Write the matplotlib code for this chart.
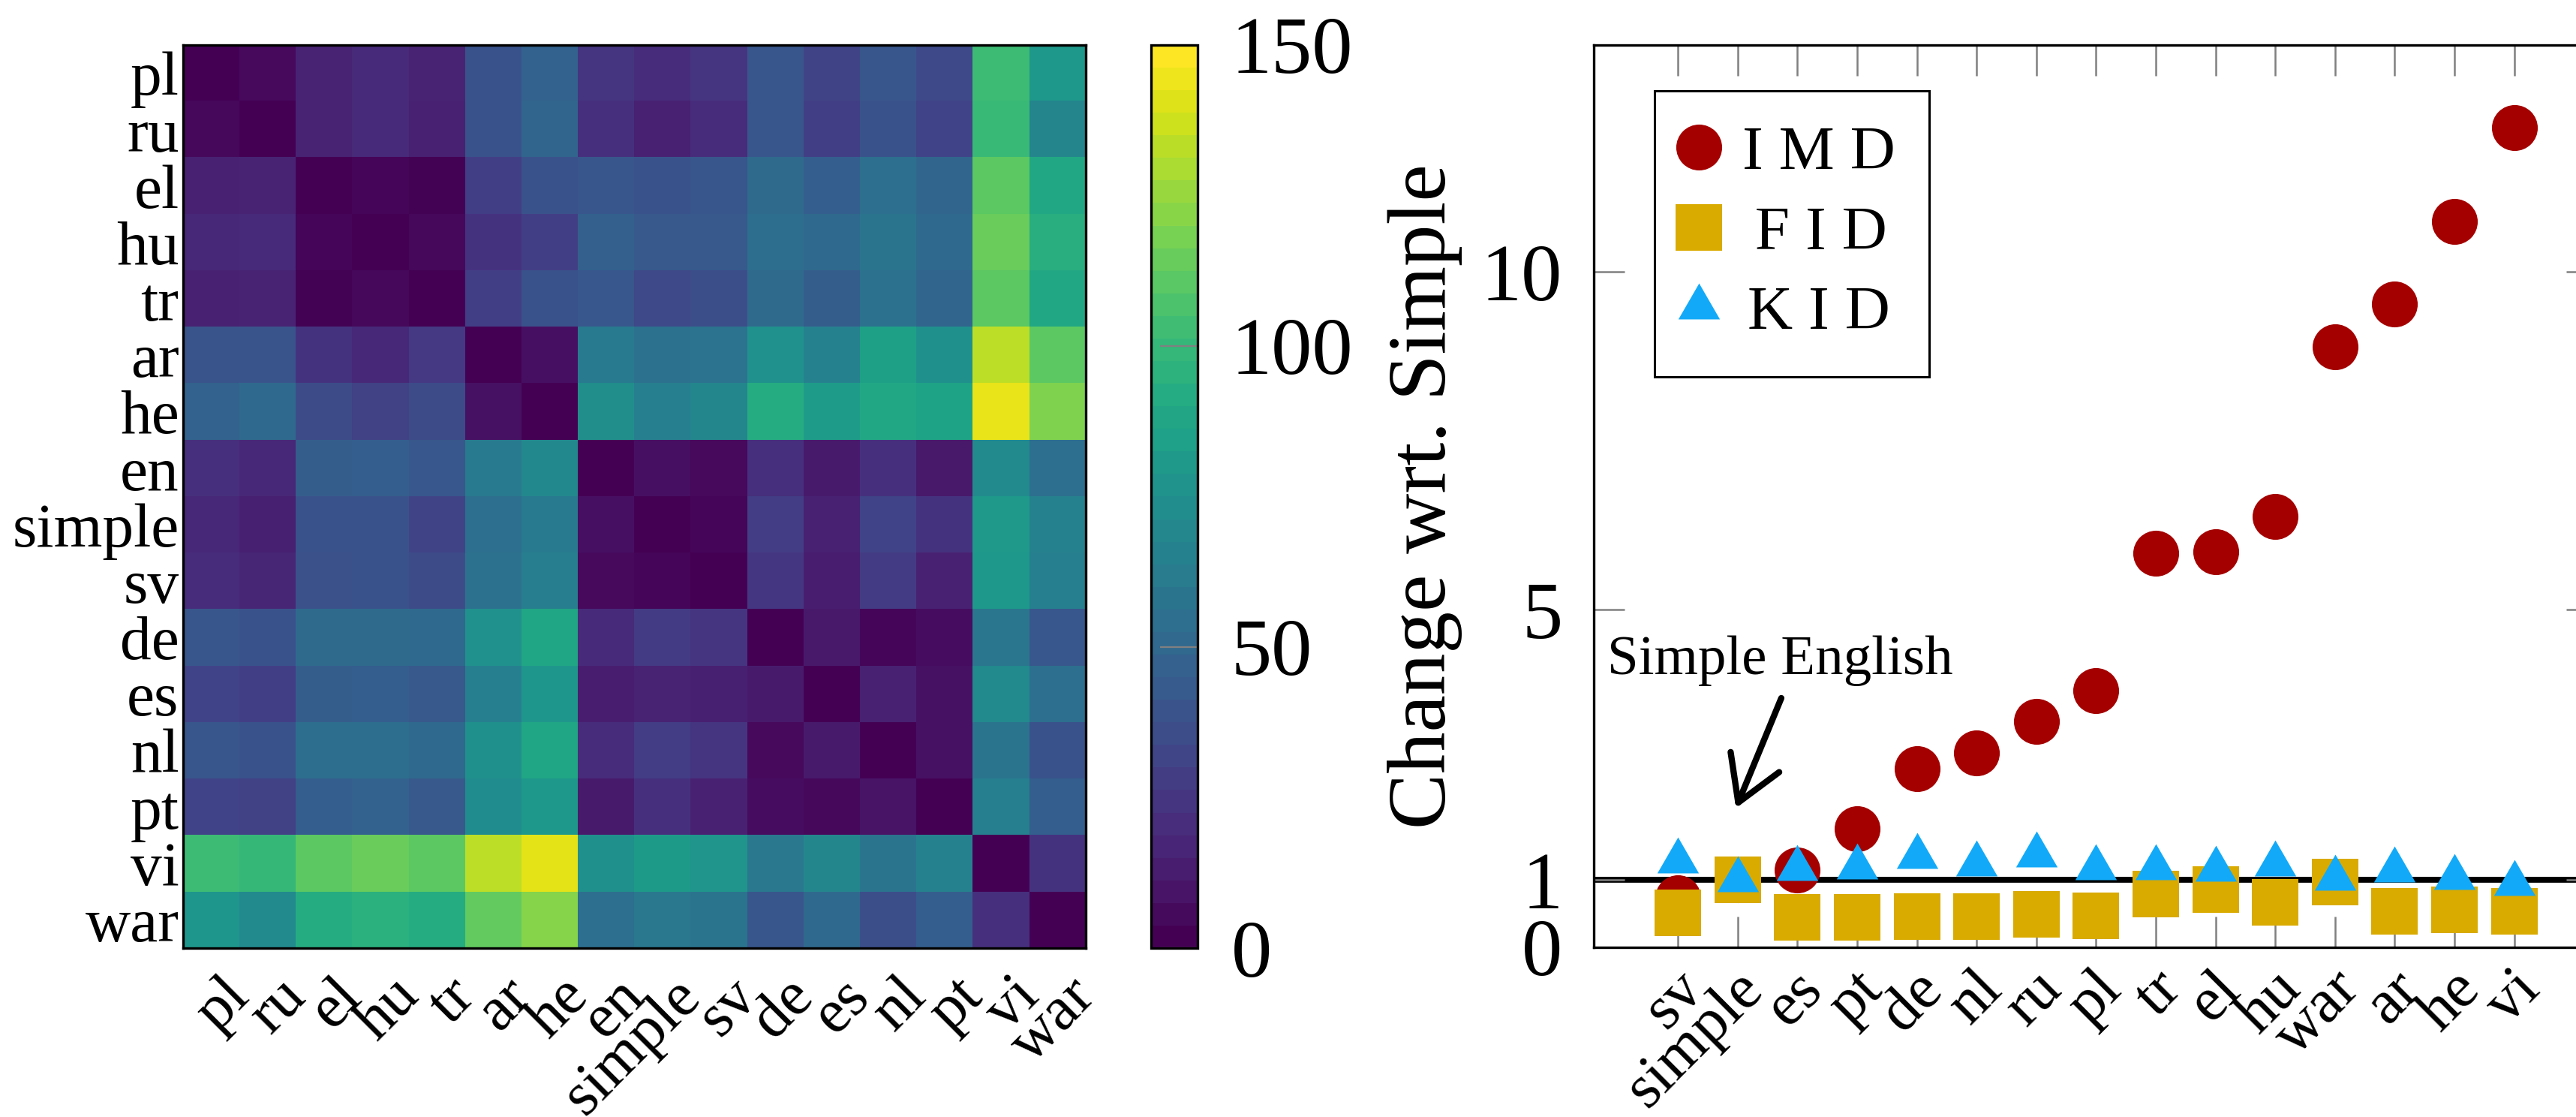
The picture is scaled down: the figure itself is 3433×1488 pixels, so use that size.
import numpy as np
import matplotlib
matplotlib.use("Agg")
import matplotlib.pyplot as plt
from matplotlib import cm, colors
from matplotlib.transforms import ScaledTranslation

plt.rcParams['font.family'] = ['Liberation Serif', 'DejaVu Serif']

# ---------- DATA ----------
# heatmap: pairwise distance between wikipedia languages
langs = ['pl', 'ru', 'el', 'hu', 'tr', 'ar', 'he', 'en', 'simple', 'sv',
         'de', 'es', 'nl', 'pt', 'vi', 'war']

dist = np.array([
    [0, 4, 15, 18, 15, 38, 47, 23, 19, 23, 40, 31, 40, 33, 103, 80],        # pl
    [3, 0, 15, 18, 14, 38, 49, 21, 14, 19, 40, 28, 38, 30, 101, 68],        # ru
    [14, 15, 0, 2, 1, 28, 38, 40, 38, 40, 52, 45, 55, 49, 112, 90],         # el
    [17, 18, 2, 0, 3, 22, 28, 46, 42, 42, 54, 51, 58, 51, 116, 94],         # hu
    [14, 15, 1, 3, 0, 28, 38, 41, 33, 36, 52, 44, 56, 49, 112, 90],         # tr
    [39, 39, 22, 17, 25, 0, 6, 62, 56, 57, 76, 66, 85, 75, 135, 112],       # ar
    [47, 51, 35, 29, 34, 7, 0, 74, 65, 69, 93, 83, 90, 87, 145, 121],       # he
    [21, 17, 44, 45, 41, 61, 70, 0, 6, 4, 20, 11, 21, 10, 72, 55],          # en
    [17, 13, 38, 38, 31, 55, 62, 6, 0, 2, 27, 14, 30, 22, 81, 66],          # simple
    [19, 16, 37, 38, 35, 56, 64, 4, 2, 0, 24, 12, 26, 14, 80, 65],          # sv
    [40, 38, 52, 52, 51, 76, 88, 18, 26, 23, 0, 10, 2, 5, 59, 41],          # de
    [30, 28, 44, 45, 42, 65, 79, 12, 15, 13, 11, 0, 14, 7, 71, 55],         # es
    [40, 38, 54, 54, 51, 75, 88, 19, 27, 23, 4, 11, 0, 7, 58, 38],          # nl
    [30, 29, 45, 47, 42, 73, 80, 11, 21, 14, 5, 3, 8, 0, 65, 45],           # pt
    [103, 100, 112, 116, 112, 135, 144, 75, 82, 78, 60, 69, 58, 66, 0, 22], # vi
    [79, 72, 93, 96, 93, 114, 123, 55, 60, 58, 40, 51, 36, 45, 20, 0],      # war
])
cbar_ticks = [0, 50, 100, 150]

# scatter: change wrt. Simple English
langs_sorted = ['sv', 'simple', 'es', 'pt', 'de', 'nl', 'ru', 'pl', 'tr',
                'el', 'hu', 'war', 'ar', 'he', 'vi']
imd = [0.73, 1.0, 1.15, 1.76, 2.64, 2.88, 3.34, 3.80, 5.83, 5.86, 6.38,
       8.89, 9.52, 10.75, 12.14]
fid = [0.51, 1.0, 0.44, 0.44, 0.46, 0.45, 0.49, 0.47, 0.79, 0.85, 0.67,
       0.97, 0.53, 0.56, 0.53]
kid = [1.28, 1.0, 1.17, 1.19, 1.34, 1.23, 1.37, 1.18, 1.18, 1.16, 1.23,
       1.02, 1.14, 1.03, 0.94]
yticks_right = [0, 1, 5, 10]

# ---------- STYLE ----------
c_imd = '#a40000'
c_fid = '#d9aa00'
c_kid = '#12aaf8'
tick_gray = '#808080'
tri = [(0, 1), (-0.866, -0.5), (0.866, -0.5)]  # centred like pgfplots triangle*

fig = plt.figure(figsize=(3433 / 200, 1488 / 200), dpi=200)


def rotate_xlabels(ax, pad, shift_pt):
    # rotated labels hanging from their right end, pgfplots-like
    ax.tick_params(axis='x', pad=pad)
    off = ScaledTranslation(shift_pt / 72, 0, fig.dpi_scale_trans)
    for t in ax.get_xticklabels():
        t.set_rotation(45)
        t.set_ha('right')
        t.set_va('center')
        t.set_rotation_mode('anchor')
        t.set_transform(t.get_transform() + off)


# ---------- LEFT: heatmap ----------
ax1 = fig.add_axes([0.0711, 0.1512, 0.3504, 0.8085])
ax1.imshow(dist, cmap='viridis', vmin=0, vmax=150, aspect='auto',
           interpolation='nearest')
ax1.set_xticks(np.arange(len(langs)))
ax1.set_yticks(np.arange(len(langs)))
ax1.set_xticklabels(langs, fontsize=30)
ax1.set_yticklabels(langs, fontsize=30)
ax1.tick_params(length=0)
ax1.tick_params(axis='y', pad=2)
rotate_xlabels(ax1, 19, 14)
for s in ax1.spines.values():
    s.set_linewidth(1.2)

cax = fig.add_axes([0.4468, 0.1512, 0.0181, 0.8085])
sm = cm.ScalarMappable(norm=colors.Normalize(0, 150),
                       cmap=plt.get_cmap('viridis').resampled(40))
cb = fig.colorbar(sm, cax=cax, ticks=cbar_ticks)
cb.outline.set_linewidth(1.2)
cax.tick_params(direction='in', length=18, width=0.8, color=tick_gray,
                labelsize=39, pad=16)

# ---------- RIGHT: change wrt. simple ----------
ax2 = fig.add_axes([0.6187, 0.1519, 0.3895, 0.8078])
x = np.arange(len(langs_sorted))
ax2.axhline(1, color='black', lw=2.8, zorder=1)
# legend labels are letter-spaced; thin/hair spaces roughly centre them
ax2.plot(x, imd, 'o', ms=22, mew=0, color=c_imd, label='I M D', zorder=2)
ax2.plot(x, fid, 's', ms=22, mew=0, color=c_fid, label='\u2009F I D', zorder=3)
ax2.plot(x, kid, marker=tri, ls='none', ms=23, mew=0, color=c_kid,
         label='\u200aK I D', zorder=4)

ax2.set_xlim(-1.41, 15.39)
ax2.set_ylim(0, 13.36)
ax2.set_xticks(x)
ax2.set_xticklabels(langs_sorted, fontsize=30)
ax2.set_yticks(yticks_right)
ax2.tick_params(axis='both', direction='in', length=14.8, width=0.9,
                color=tick_gray, top=True, right=True)
ax2.tick_params(axis='y', labelsize=39, pad=15)
rotate_xlabels(ax2, 16, 8)
for s in ax2.spines.values():
    s.set_linewidth(1.2)

ax2.set_ylabel('Change wrt. Simple', fontsize=40)
ax2.yaxis.set_label_coords(-0.131, 0.5)

ax2.text(-1.18, 4.24, 'Simple English', fontsize=27, ha='left', va='center')
ax2.annotate('', xy=(0.97, 2.06), xytext=(1.73, 3.69),
             arrowprops=dict(arrowstyle='->,head_length=0.5,head_width=0.3',
                             lw=3, color='black', mutation_scale=42,
                             shrinkA=0, shrinkB=0))

leg = ax2.legend(loc='upper left', bbox_to_anchor=(0.0606, 0.949),
                 borderaxespad=0, fontsize=30, numpoints=1, fancybox=False,
                 edgecolor='black', framealpha=1, borderpad=0.55,
                 labelspacing=0.36, handletextpad=0.53, handlelength=0.32)
leg.get_frame().set_linewidth(1.1)

fig.savefig('out.png', dpi=200)
